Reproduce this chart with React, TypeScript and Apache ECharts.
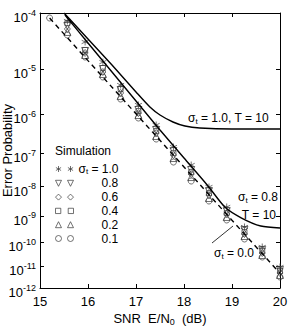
import React, { useEffect, useRef } from 'react';
import * as echarts from 'echarts';

// ---------- data ----------
const snrTicks = [15, 16, 17, 18, 19, 20];
const probTickExps = [4, 5, 6, 7, 8, 9, 10, 11, 12]; // 10^-4 ... 10^-12

// theory, sigma_t = 0.0 (dashed)
const theorySnr = [15.2, 16, 17, 18, 19, 20];
const theoryP = [8.3e-5, 1.45e-5, 1.04e-6, 4.0e-8, 7.0e-10, 4.8e-12];

// sigma_t = 1.0, T = 10 (solid)
const s10Snr = [15.5, 16, 16.5, 17, 17.29, 17.5, 17.77, 18.02, 18.33, 19, 20];
const s10P = [1e-4, 3.65e-5, 1.19e-5, 3.28e-6, 1.5e-6, 9.71e-7, 6.57e-7, 5.22e-7, 4.65e-7, 4.38e-7, 4.38e-7];

// sigma_t = 0.8, T = 10 (solid)
const s08Snr = [15.52, 16, 16.5, 17, 17.5, 18, 18.5, 18.85, 19.2, 19.6, 20];
const s08P = [9.29e-5, 3.1e-5, 8.64e-6, 2.06e-6, 4.13e-7, 7.25e-8, 1.04e-8, 2.08e-9, 8.45e-10, 4.29e-10, 3.61e-10];

// simulation points
const simSnr = [15.2, 15.57, 15.94, 16.31, 16.68, 17.05, 17.42, 17.78, 18.15, 18.52, 18.89, 19.26, 19.63, 20.0];
const simSigma10 = [null, 7.42e-5, 3.23e-5, 1.36e-5, 4.64e-6, 1.67e-6, 5.52e-7, 1.47e-7, 4.55e-8, 9.63e-9, 2.08e-9, 3.94e-10, 6.5e-11, 9.23e-12];
const simSigma08 = [null, 6.12e-5, 2.21e-5, 9.93e-6, 3.62e-6, 1.28e-6, 4.13e-7, 1.14e-7, 3.23e-8, 7.15e-9, 1.51e-9, 3.03e-10, 4.9e-11, 6.8e-12];
const simSigma06 = [null, 5.45e-5, 2.03e-5, 8.64e-6, 3.12e-6, 1.08e-6, 3.46e-7, 8.82e-8, 2.45e-8, 5.29e-9, 1.18e-9, 2.13e-10, 3.68e-11, 4.99e-12];
const simSigma04 = [null, 6.87e-5, 2.31e-5, 1.04e-5, 3.81e-6, 1.21e-6, 3.9e-7, 1.0e-7, 2.82e-8, 6.15e-9, 1.28e-9, 2.54e-10, 4.45e-11, 6.13e-12];
const simSigma02 = [null, 4.84e-5, 1.86e-5, 7.87e-6, 2.67e-6, 9.71e-7, 2.89e-7, 7.25e-8, 1.98e-8, 4.2e-9, 9.2e-10, 1.78e-10, 3.03e-11, 4.05e-12];
const simSigma01 = [8.3e-5, 4.29e-5, 1.7e-5, 6.83e-6, 2.29e-6, 8.22e-7, 2.41e-7, 5.56e-8, 1.49e-8, 3.33e-9, 7.16e-10, 1.36e-10, 2.5e-11, 3.28e-12];

const sigmaLabels = ['1.0', '0.8', '0.6', '0.4', '0.2', '0.1'];
const simSeriesValues = [simSigma10, simSigma08, simSigma06, simSigma04, simSigma02, simSigma01];

// ---------- styling ----------
const FONT = '"Liberation Sans", Arial, Helvetica, sans-serif';
const MARK = '#3a3a3a';

const markerSymbols = [
  'path://M4,0L4,8M0.6,2L7.4,6M0.6,6L7.4,2',
  'triangle',
  'diamond',
  'rect',
  'triangle',
  'circle',
];
const markerRotate = [0, 180, 0, 0, 0, 0];
const markerSizes: any[] = [7, 7, [6, 7], 5, 7, 6];

const legendIcons = [
  'path://M3,0L3,6M0.4,1.5L5.6,4.5M0.4,4.5L5.6,1.5M15,0L15,6M12.4,1.5L17.6,4.5M12.4,4.5L17.6,1.5',
  'path://M0,0L6,0L3,6ZM12,0L18,0L15,6Z',
  'path://M3,0L6,3L3,6L0,3ZM15,0L18,3L15,6L12,3Z',
  'path://M0.5,0.5L5.5,0.5L5.5,5.5L0.5,5.5ZM12.5,0.5L17.5,0.5L17.5,5.5L12.5,5.5Z',
  'path://M0,6L6,6L3,0ZM12,6L18,6L15,0Z',
  'path://M0,3A3,3,0,1,1,6,3A3,3,0,1,1,0,3ZM12,3A3,3,0,1,1,18,3A3,3,0,1,1,12,3Z',
];

const toAxis = (p: number) => Math.log10(-Math.log10(p));
const yMin = Math.log10(4);
const yMax = Math.log10(12);
const yTickVals = probTickExps.map((n) => Math.log10(n));

const pairs = (xs: number[], ps: (number | null)[]) =>
  xs.map((x, i) => (ps[i] == null ? null : [x, toAxis(ps[i] as number)])).filter((d) => d !== null);

const subRich = (size: number) => ({
  a: { fontSize: size, fontFamily: FONT, color: '#000', lineHeight: size + 3 },
  s: { fontSize: size - 4, fontFamily: FONT, color: '#000', verticalAlign: 'bottom' },
});

const NB = '\u00a0';

export default function App() {
  const ref = useRef<HTMLDivElement>(null);

  useEffect(() => {
    if (!ref.current) return;
    const chart = echarts.init(ref.current, undefined, { renderer: 'svg' });

    const names = sigmaLabels.map((l) => 'σt = ' + l);

    const simSeries = simSeriesValues.map((vals, i) => ({
      name: names[i],
      type: 'scatter',
      xAxisIndex: 0,
      yAxisIndex: 0,
      symbol: markerSymbols[i],
      symbolSize: markerSizes[i],
      symbolRotate: markerRotate[i],
      itemStyle: { color: 'none', borderColor: MARK, borderWidth: 0.9 },
      data: pairs(simSnr, vals),
      z: 3,
    }));

    const lineSeries = [
      {
        name: 'σt = 0.0',
        type: 'line',
        data: pairs(theorySnr, theoryP),
        showSymbol: false,
        symbol: 'none',
        lineStyle: { color: '#000', width: 1.4, type: [5, 4] },
        z: 4,
      },
      {
        name: 'σt = 1.0, T = 10',
        type: 'line',
        data: pairs(s10Snr, s10P),
        showSymbol: false,
        symbol: 'none',
        smooth: 0.25,
        lineStyle: { color: '#000', width: 1.4 },
        z: 4,
      },
      {
        name: 'σt = 0.8, T = 10',
        type: 'line',
        data: pairs(s08Snr, s08P),
        showSymbol: false,
        symbol: 'none',
        smooth: 0.25,
        lineStyle: { color: '#000', width: 1.4 },
        z: 4,
      },
    ];

    const axisLine = { show: true, onZero: false, lineStyle: { color: '#000', width: 1 } };
    const tickStyle = { color: '#000', width: 1 };

    const option: any = {
      animation: false,
      backgroundColor: '#fff',
      textStyle: { fontFamily: FONT },
      grid: { left: 40, right: 11, top: 13, bottom: 39, containLabel: false, outerBoundsMode: 'none' },
      xAxis: [
        {
          type: 'value',
          position: 'bottom',
          min: snrTicks[0],
          max: snrTicks[snrTicks.length - 1],
          interval: 1,
          axisLine,
          axisTick: { show: true, inside: true, length: 4, lineStyle: tickStyle },
          axisLabel: { color: '#000', fontSize: 13, fontFamily: FONT, margin: 7 },
          splitLine: { show: false },
          name: `{a|SNR${NB}${NB}E/N}{s|0}{a|${NB}${NB}(dB)}`,
          nameLocation: 'middle',
          nameGap: 22,
          nameMoveOverlap: false,
          nameTextStyle: { rich: subRich(13) },
        },
        {
          type: 'value',
          position: 'top',
          min: snrTicks[0],
          max: snrTicks[snrTicks.length - 1],
          interval: 1,
          axisLine,
          axisTick: { show: true, inside: true, length: 4, lineStyle: tickStyle },
          axisLabel: { show: false },
          splitLine: { show: false },
        },
      ],
      yAxis: [
        {
          type: 'value',
          position: 'left',
          inverse: true,
          min: yMin,
          max: yMax,
          axisLine,
          axisTick: { show: true, inside: true, length: 4, lineStyle: tickStyle, customValues: yTickVals },
          axisLabel: {
            customValues: yTickVals,
            margin: 4,
            padding: [6, 0, 0, 0],
            formatter: (v: number) => `{b|10}{e|-${Math.round(Math.pow(10, v))}}`,
            rich: {
              b: { fontSize: 13, fontFamily: FONT, color: '#000', lineHeight: 16, verticalAlign: 'bottom' },
              e: { fontSize: 9, fontFamily: FONT, color: '#000', verticalAlign: 'top' },
            },
          },
          splitLine: { show: false },
          name: 'Error Probability',
          nameLocation: 'middle',
          nameRotate: 90,
          nameGap: 26,
          nameMoveOverlap: false,
          nameTextStyle: { color: '#000', fontSize: 13, fontFamily: FONT, lineHeight: 13 },
        },
        {
          type: 'value',
          position: 'right',
          inverse: true,
          min: yMin,
          max: yMax,
          axisLine,
          axisTick: { show: true, inside: true, length: 4, lineStyle: tickStyle, customValues: yTickVals },
          axisLabel: { show: false, customValues: yTickVals },
          splitLine: { show: false },
        },
      ],
      legend: {
        orient: 'vertical',
        left: 53,
        top: 163,
        padding: 0,
        itemGap: 1.8,
        itemWidth: 18,
        itemHeight: 6,
        selectedMode: false,
        itemStyle: { color: 'none', borderColor: MARK, borderWidth: 0.9 },
        data: names.map((n, i) => ({ name: n, icon: legendIcons[i] })),
        formatter: (name: string) => {
          const i = names.indexOf(name);
          if (i === 0) return `{a|σ}{s|t}{a| = ${sigmaLabels[0]}}`;
          return `{p|}{a|${sigmaLabels[i]}}`;
        },
        textStyle: {
          color: '#000',
          fontSize: 12,
          fontFamily: FONT,
          rich: {
            a: { fontSize: 12, fontFamily: FONT, color: '#000', lineHeight: 13 },
            s: { fontSize: 8, fontFamily: FONT, color: '#000', verticalAlign: 'bottom' },
            p: { width: 23 },
          },
        },
      },
      graphic: [
        {
          type: 'text',
          x: 55,
          y: 151,
          style: { text: 'Simulation', fontSize: 12, fontFamily: FONT, fill: '#000', align: 'left', verticalAlign: 'middle' },
        },
        {
          type: 'text',
          x: 188,
          y: 118,
          style: {
            text: '{a|σ}{s|t}{a| = 1.0, T = 10}',
            rich: subRich(12),
            align: 'left',
            verticalAlign: 'middle',
          },
        },
        {
          type: 'text',
          x: 278,
          y: 197,
          style: { text: '{a|σ}{s|t}{a| = 0.8}', rich: subRich(12), align: 'right', verticalAlign: 'middle' },
        },
        {
          type: 'text',
          x: 276,
          y: 215,
          style: { text: 'T = 10', fontSize: 12, fontFamily: FONT, fill: '#000', align: 'right', verticalAlign: 'middle' },
        },
        {
          type: 'text',
          x: 214,
          y: 253,
          style: { text: '{a|σ}{s|t}{a| = 0.0}', rich: subRich(12), align: 'left', verticalAlign: 'middle' },
        },
        {
          type: 'line',
          shape: { x1: 212, y1: 243, x2: 233, y2: 226 },
          style: { stroke: '#000', lineWidth: 0.8 },
        },
      ],
      series: [...simSeries, ...lineSeries],
    };

    chart.setOption(option);
    return () => chart.dispose();
  }, []);

  return (
    <div
      ref={ref}
      style={{ position: 'fixed', left: 0, top: 0, width: 291, height: 327, background: '#fff' }}
    />
  );
}
